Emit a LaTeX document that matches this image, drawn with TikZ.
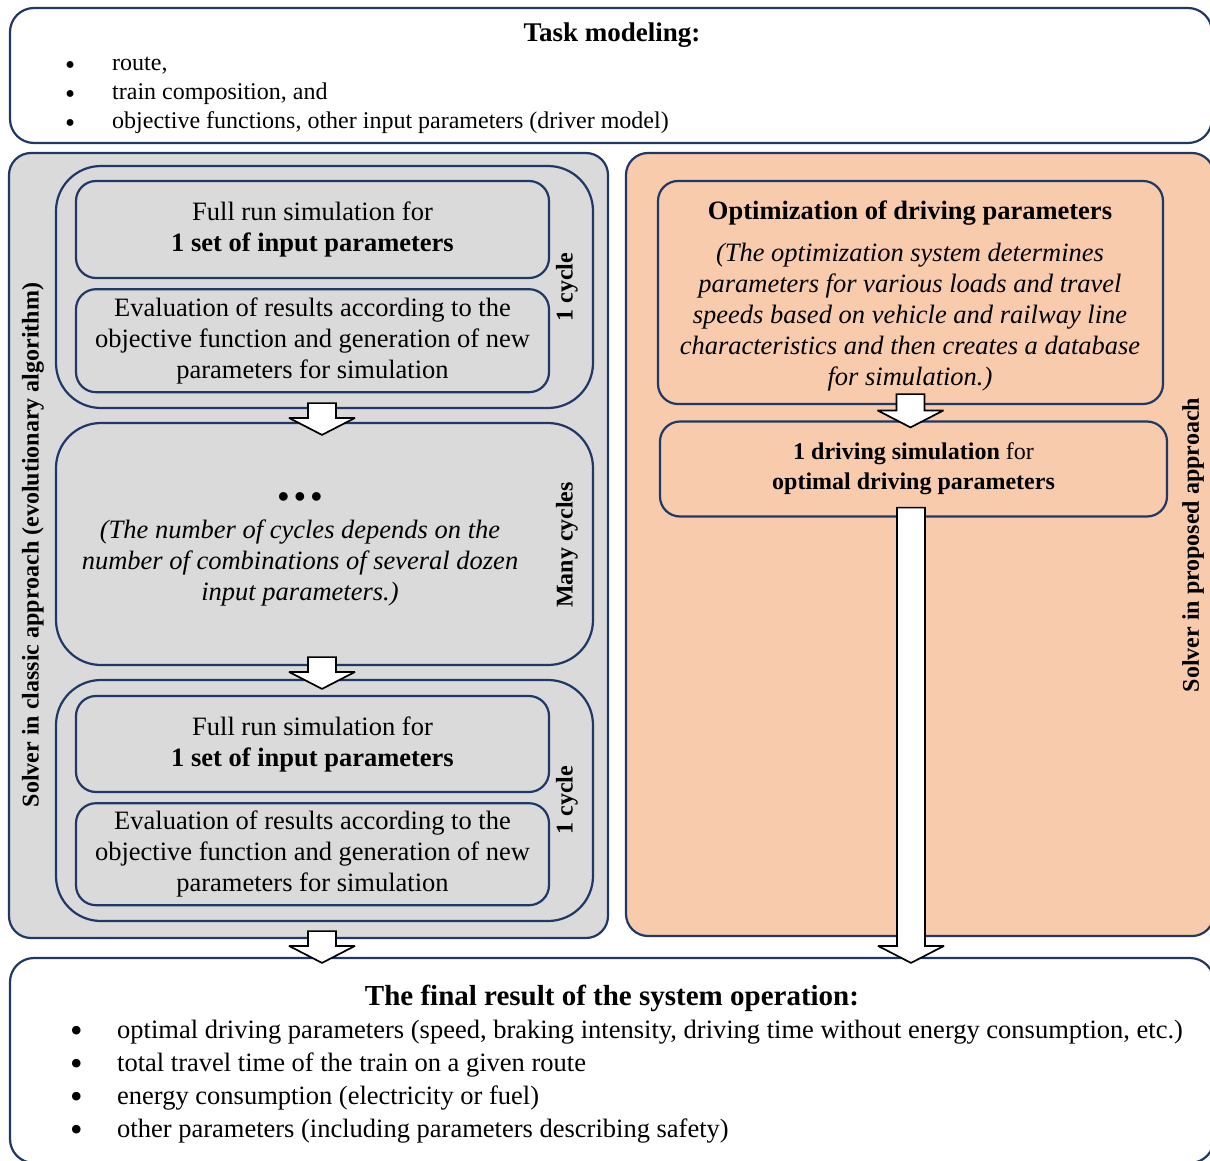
\documentclass[tikz,border=0pt]{standalone}
\usepackage{fontspec}
\setmainfont{Liberation Serif}
\usetikzlibrary{calc,positioning}

\definecolor{navy}{HTML}{1F3864}
\definecolor{panelgray}{HTML}{DADADA}
\definecolor{panelorange}{HTML}{F8CBAD}

\newcommand{\bul}[1][1.35]{\makebox[47pt][l]{\smash{\raisebox{-0.3ex}{\scalebox{#1}{\textbullet}}}}}
\newcommand{\blockarrow}[2]{%
  \draw[blockarr] let \p1=(#1), \p2=(#2) in
    (\x1-14pt,\y1) -- (\x1+14pt,\y1) -- (\x1+14pt,\y2+17pt) -- (\x1+33pt,\y2+17pt)
    -- (\x1,\y2) -- (\x1-33pt,\y2+17pt) -- (\x1-14pt,\y2+17pt) -- cycle;}

\begin{document}
\begin{tikzpicture}[x=1pt, y=-1pt,
    frame/.style={draw=navy, line width=2.2pt, rounded corners=24pt, inner sep=0pt},
    box/.style={frame, rounded corners=20pt, minimum width=473pt, align=center, font=\fontsize{26.5}{31}\selectfont},
    cyclebox/.style={frame, rounded corners=45pt, minimum width=537pt, minimum height=242pt},
    sidelabel/.style={rotate=90, font=\bfseries\fontsize{24}{26}\selectfont},
    note/.style={align=center, font=\itshape\fontsize{26.5}{31}\selectfont},
    blockarr/.style={draw=black, fill=white, line width=1.7pt, miter limit=4},
]
\useasboundingbox (0,0) rectangle (1210,1161);

% Task modeling
\node[frame, minimum width=1202pt, minimum height=135pt] (task) at (611,75.5) {};
\node[font=\bfseries\fontsize{27}{30}\selectfont] (tasktitle) at (612,35) {Task modeling:};
\node[anchor=north west, align=left, inner sep=0pt, font=\fontsize{24}{29}\selectfont] (tasklist) at (65,57)
  {\bul[1.2]route,\\ \bul[1.2]train composition, and\\ \bul[1.2]objective functions, other input parameters (driver model)};

% Classic solver
\node[frame, fill=panelgray, rounded corners=22pt, minimum width=599pt, minimum height=785pt] (classic) at (308.5,545.5) {};
\node[sidelabel] (classiclbl) at (33,545) {Solver in classic approach (evolutionary algorithm)};

\node[cyclebox] (cycA) at (324.5,287) {};
\node[box, minimum height=97pt] (simA) at (312.5,229.5) {Full run simulation for\\ \textbf{1 set of input parameters}};
\node[box, minimum height=103pt, below=9pt of simA] (evalA) {Evaluation of results according to the\\ objective function and generation of new\\ parameters for simulation};
\node[sidelabel] (cycAlbl) at (567,287) {1 cycle};

\node[cyclebox] (many) at (324.5,544) {};
\node[font=\bfseries\fontsize{32}{32}\selectfont] (dots) at (300,500) {\textbullet\,\textbullet\,\textbullet};
\node[note] (manytxt) at (300,563) {(The number of cycles depends on the\\ number of combinations of several dozen\\ input parameters.)};
\node[sidelabel] (manylbl) at (567,545) {Many cycles};

\node[cyclebox, minimum height=241pt] (cycB) at (324.5,800.5) {};
\node[box, minimum height=96pt] (simB) at (312.5,744) {Full run simulation for\\ \textbf{1 set of input parameters}};
\node[box, minimum height=102pt, below=9pt of simB] (evalB) {Evaluation of results according to the\\ objective function and generation of new\\ parameters for simulation};
\node[sidelabel] (cycBlbl) at (567,800) {1 cycle};

% Proposed solver
\node[frame, fill=panelorange, rounded corners=22pt, minimum width=588pt, minimum height=783pt] (proposed) at (920,544.5) {};
\node[sidelabel] (proposedlbl) at (1193,545) {Solver in proposed approach};

\node[box, minimum width=505pt, minimum height=223pt] (opt) at (910.5,292.5) {};
\node[font=\bfseries\fontsize{26.5}{30}\selectfont] (opttitle) at (910,213) {Optimization of driving parameters};
\node[note] (opttxt) at (910,317) {(The optimization system determines\\ parameters for various loads and travel\\ speeds based on vehicle and railway line\\ characteristics and then creates a database\\ for simulation.)};

\node[box, minimum width=507pt, minimum height=95pt, font=\fontsize{24}{30}\selectfont] (sim) at (913.5,469)
  {\textbf{1 driving simulation} for\\ \textbf{optimal driving parameters}};

% Final result
\node[frame, minimum width=1204pt, minimum height=205pt] (result) at (612,1060.5) {};
\node[font=\bfseries\fontsize{29}{32}\selectfont] (resulttitle) at (612,998) {The final result of the system operation:};
\node[anchor=north west, align=left, inner sep=0pt, font=\fontsize{26.5}{33}\selectfont] (resultlist) at (70,1020)
  {\bul optimal driving parameters (speed, braking intensity, driving time without energy consumption, etc.)\\
   \bul total travel time of the train on a given route\\
   \bul energy consumption (electricity or fuel)\\
   \bul other parameters (including parameters describing safety)};

% Arrows
\blockarrow{$(cycA.south)+(-2.5,-6)$}{$(many.north)+(0,13)$}
\blockarrow{$(many.south)+(-2.5,-9)$}{$(cycB.north)+(0,10)$}
\blockarrow{$(cycB.south)+(-2.5,9)$}{$(result.north)+(0,6)$}
\blockarrow{$(opt.south)+(0,-11)$}{$(sim.north)+(0,7)$}
\blockarrow{$(sim.south)+(-2.5,-10)$}{$(result.north)+(0,6)$}
\end{tikzpicture}
\end{document}
